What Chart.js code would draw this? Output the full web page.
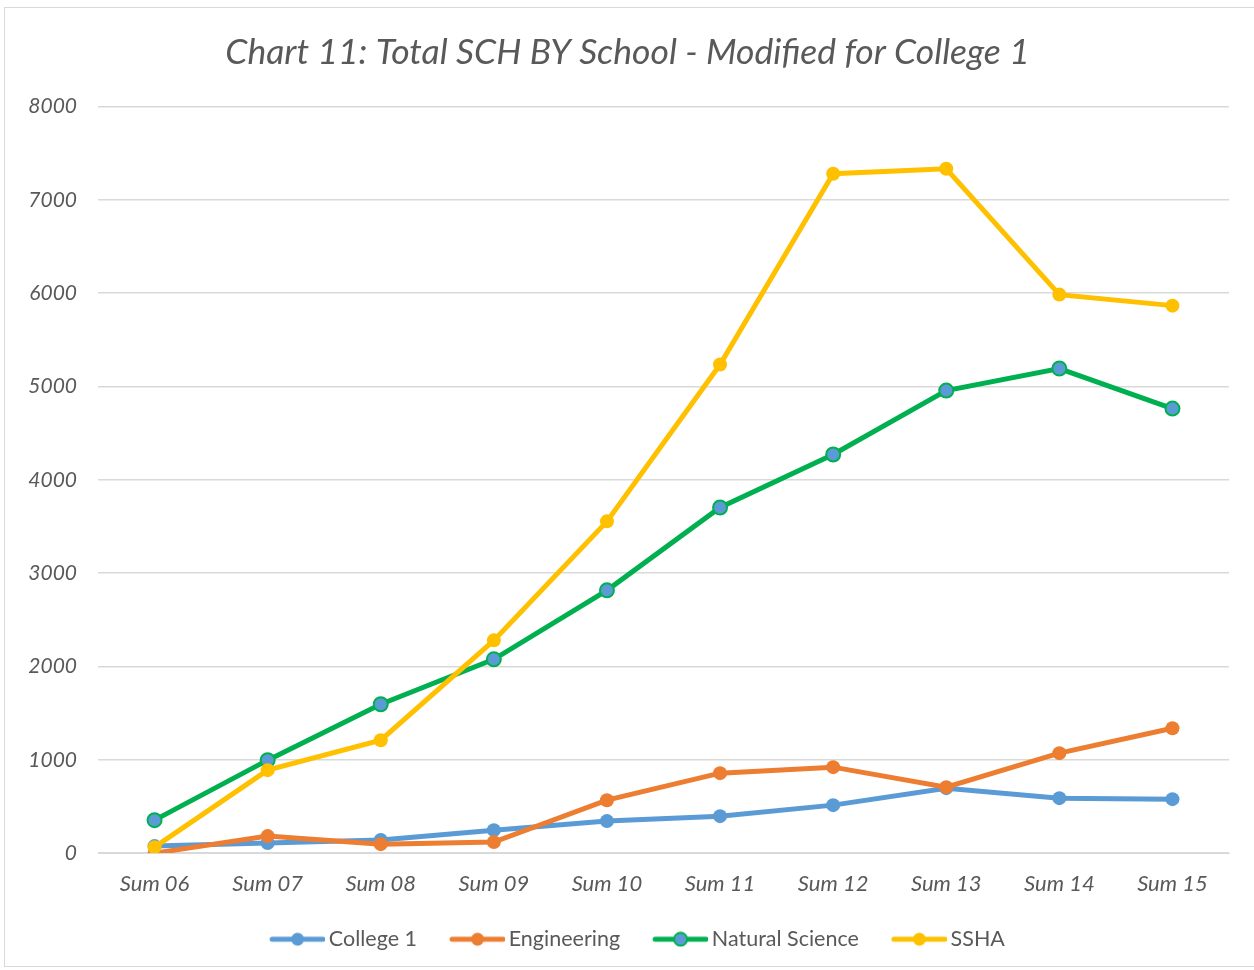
<!DOCTYPE html>
<html>
<head>
<meta charset="utf-8">
<script src="https://cdn.jsdelivr.net/npm/chart.js@4.4.0/dist/chart.umd.min.js"></script>
<style>
  html, body { margin: 0; padding: 0; background: #fff; }
  #box { position: absolute; left: 4px; top: 7px; width: 1252px; height: 960px; border: 1px solid #d9d9d9; box-sizing: border-box; }
  #wrap { position: absolute; left: 0; top: 0; width: 1254px; height: 970px; }
</style>
</head>
<body>
<div id="box"></div>
<div id="wrap"><canvas id="chart11"></canvas></div>
<script>
var categories = ["Sum 06", "Sum 07", "Sum 08", "Sum 09", "Sum 10", "Sum 11", "Sum 12", "Sum 13", "Sum 14", "Sum 15"];
var college1 = [75, 107, 140, 246, 343, 396, 514, 696, 589, 578];
var engineering = [0, 182, 96, 118, 567, 857, 921, 707, 1071, 1338];
var naturalScience = [353, 996, 1595, 2077, 2816, 3704, 4272, 4957, 5193, 4764];
var ssha = [64, 889, 1210, 2280, 3555, 5236, 7280, 7334, 5985, 5867];
var yTicks = [0, 1000, 2000, 3000, 4000, 5000, 6000, 7000, 8000];

var textColor = "#595959";
var fontName = "Lato, 'Open Sans', sans-serif";

// line + dot image for the legend; visible part sits on the right of the image
function legendIcon(line, fill, edge) {
  var c = document.createElement("canvas");
  c.width = 82; c.height = 16;
  var g = c.getContext("2d");
  g.strokeStyle = line; g.lineWidth = 5; g.lineCap = "round";
  g.beginPath(); g.moveTo(29, 8); g.lineTo(80, 8); g.stroke();
  g.beginPath(); g.arc(54.5, 8, 6.5, 0, Math.PI * 2);
  g.fillStyle = fill; g.fill();
  if (edge) { g.lineWidth = 2; g.strokeStyle = edge; g.stroke(); }
  return c;
}

function series(label, values, color, pointFill, order) {
  return {
    label: label,
    data: values,
    borderColor: color,
    backgroundColor: color,
    borderWidth: 5,
    pointRadius: 7,
    pointHoverRadius: 7,
    pointBackgroundColor: pointFill || color,
    pointBorderColor: color,
    pointBorderWidth: pointFill ? 2 : 0,
    tension: 0,
    order: order
  };
}

var datasets = [
  series("College 1", college1, "#5B9BD5", null, 4),
  series("Engineering", engineering, "#ED7D31", null, 3),
  series("Natural Science", naturalScience, "#00B050", "#5B9BD5", 2),
  series("SSHA", ssha, "#FFC000", null, 1)
];

var icons = [
  legendIcon("#5B9BD5", "#5B9BD5"),
  legendIcon("#ED7D31", "#ED7D31"),
  legendIcon("#00B050", "#5B9BD5", "#00B050"),
  legendIcon("#FFC000", "#FFC000")
];

new Chart(document.getElementById("chart11"), {
  type: "line",
  data: { labels: categories, datasets: datasets },
  options: {
    responsive: true,
    maintainAspectRatio: false,
    animation: false,
    layout: { padding: { left: 26, right: 25, top: 0, bottom: 10 } },
    plugins: {
      title: {
        display: true,
        text: "Chart 11: Total SCH BY School - Modified for College 1",
        color: textColor,
        font: { family: fontName, size: 35.5, style: "italic", weight: "normal" },
        padding: { top: 31, bottom: 33 }
      },
      legend: {
        position: "bottom",
        labels: {
          usePointStyle: true,
          pointStyleWidth: 68,
          boxHeight: 16,
          color: textColor,
          font: { family: fontName, size: 21.5 },
          padding: 13,
          generateLabels: function (chart) {
            return chart.data.datasets.map(function (ds, i) {
              return {
                text: ds.label,
                pointStyle: icons[i],
                fillStyle: ds.borderColor,
                strokeStyle: ds.borderColor,
                lineWidth: 0,
                fontColor: textColor,
                hidden: false,
                datasetIndex: i
              };
            });
          }
        }
      },
      tooltip: { enabled: false }
    },
    scales: {
      x: {
        offset: true,
        grid: { display: false, drawTicks: false },
        border: { color: "#d9d9d9", width: 1 },
        ticks: {
          color: textColor,
          padding: 18,
          maxRotation: 0,
          font: { family: fontName, size: 22, style: "italic" }
        }
      },
      y: {
        min: 0,
        max: 8000,
        afterFit: function (s) { s.width = 72; },
        afterBuildTicks: function (s) { s.ticks = yTicks.map(function (v) { return { value: v }; }); },
        grid: { color: "#d9d9d9", lineWidth: 1.5, drawTicks: false },
        border: { display: false },
        ticks: {
          color: textColor,
          padding: 21,
          font: { family: fontName, size: 21, style: "italic" },
          callback: function (v) { return String(v); }
        }
      }
    }
  }
});
</script>
</body>
</html>
